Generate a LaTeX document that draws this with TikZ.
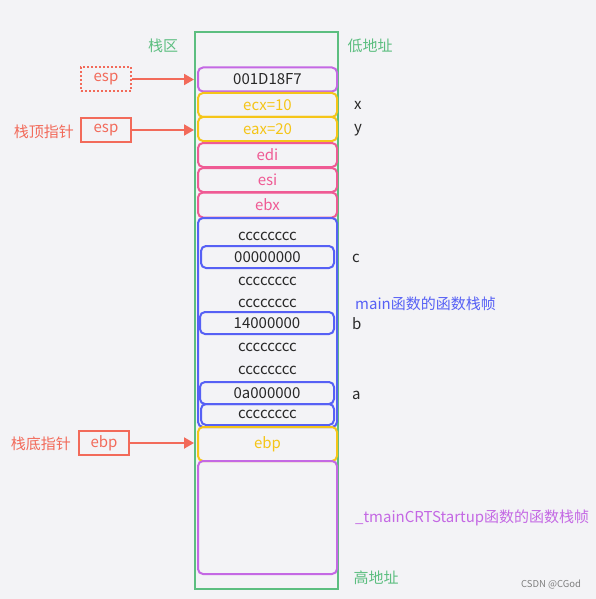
\documentclass[tikz,border=0pt]{standalone}
\usepackage{fontspec}
\setmainfont{Noto Sans CJK SC}
\usepackage{tikz}
\usetikzlibrary{calc,arrows.meta}

\definecolor{bgc}{RGB}{243,243,246}
\definecolor{framegreen}{RGB}{92,190,128}
\definecolor{ptrred}{RGB}{242,106,90}
\definecolor{regyellow}{RGB}{245,197,24}
\definecolor{regpink}{RGB}{239,90,148}
\definecolor{mainblue}{RGB}{86,96,245}
\definecolor{crtpurple}{RGB}{196,104,228}
\definecolor{txtgray}{RGB}{40,40,40}

\tikzset{
    cell/.style={draw, rounded corners=5pt, line width=2pt, minimum width=139pt, minimum height=24pt, inner sep=0pt},
    val/.style={text=txtgray, inner sep=0pt},
    ptrbox/.style={draw=ptrred, line width=2pt, text=ptrred, minimum width=50pt, minimum height=24pt, inner sep=0pt},
    ptr/.style={draw=ptrred, line width=2pt, -{Triangle[length=10pt,width=11pt]}},
    lbl/.style={inner sep=0pt, anchor=west}
}

\begin{document}
\begin{tikzpicture}[x=1pt, y=-1pt, font=\fontsize{15}{17}\selectfont]
        % Background and size
        \fill[bgc] (0,0) rectangle (596,599);
        \useasboundingbox (0,0) rectangle (596,599);

        % Stack area frame
        \node[draw=framegreen, line width=2pt, minimum width=143pt, minimum height=557pt, inner sep=0pt] (frame) at (266.5,310.5) {};
        \node[text=framegreen, inner sep=0pt] (zone) at (163,46) {栈区};
        \node[text=framegreen, inner sep=0pt] (low) at (370,46) {低地址};
        \node[text=framegreen, inner sep=0pt] (high) at (376,578) {高地址};

        % Registers pushed on top
        \node[cell, draw=crtpurple, text=txtgray] (top) at (267.5,79.5) {001D18F7};
        \node[cell, draw=regyellow, text=regyellow] (ecx) at (267.5,105) {ecx=10};
        \node[cell, draw=regyellow, text=regyellow] (eax) at (267.5,129) {eax=20};
        \node[cell, draw=regpink, text=regpink] (edi) at (267.5,155) {edi};
        \node[cell, draw=regpink, text=regpink] (esi) at (267.5,180) {esi};
        \node[cell, draw=regpink, text=regpink, minimum height=25pt] (ebx) at (267.5,205) {ebx};

        % Frame of main
        \node[cell, draw=mainblue, minimum height=209pt] (mainframe) at (267.5,322.5) {};
        \node[val] (c1) at (267.5,236) {cccccccc};
        \node[cell, draw=mainblue, minimum width=133pt, minimum height=22pt, text=txtgray] (varc) at (267.5,257) {00000000};
        \node[val] (c2) at (267.5,281) {cccccccc};
        \node[val] (c3) at (267.5,303) {cccccccc};
        \node[cell, draw=mainblue, minimum width=134pt, minimum height=22pt, text=txtgray] (varb) at (267,323) {14000000};
        \node[val] (c4) at (267.5,347) {cccccccc};
        \node[val] (c5) at (267.5,370) {cccccccc};
        \node[cell, draw=mainblue, minimum width=134pt, minimum height=22pt, text=txtgray] (vara) at (267,393) {0a000000};
        \node[cell, draw=mainblue, minimum width=133pt, minimum height=21pt, text=txtgray] (c6) at (267.5,414.5) {cccccccc};

        % Saved ebp and caller frame
        \node[cell, draw=regyellow, text=regyellow, minimum height=34pt] (oldebp) at (267.5,444) {ebp};
        \node[cell, draw=crtpurple, minimum height=113pt] (crtframe) at (267.5,517.5) {};

        % Variable names and frame names
        \node[lbl, text=txtgray] (nx) at (354,105) {x};
        \node[lbl, text=txtgray] (ny) at (354,130) {y};
        \node[lbl, text=txtgray] (nc) at (352,258) {c};
        \node[lbl, text=txtgray] (nb) at (352,324) {b};
        \node[lbl, text=txtgray] (na) at (352,395) {a};
        \node[lbl, text=mainblue] (mainname) at (355,304) {main函数的函数栈帧};
        \node[lbl, text=crtpurple] (crtname) at (355,518) {\_tmainCRTStartup函数的函数栈帧};

        % Pointers
        \node[ptrbox, dotted] (espold) at (106,79.5) {esp};
        \node[ptrbox] (esp) at (106,130) {esp};
        \node[text=ptrred, inner sep=0pt, anchor=east] (espname) at (74,132) {栈顶指针};
        \node[ptrbox] (ebp) at (104,443) {ebp};
        \node[text=ptrred, inner sep=0pt, anchor=east] (ebpname) at (71,444) {栈底指针};
        \draw[ptr] (espold.east) -- (espold.east -| frame.west);
        \draw[ptr] (esp.east) -- (esp.east -| frame.west);
        \draw[ptr] (ebp.east) -- (ebp.east -| frame.west);

        % Watermark
        \node[text=gray, font=\fontsize{9.5}{11}\selectfont, inner sep=0pt] (mark) at (551,585) {CSDN @CGod};
    \end{tikzpicture}
\end{document}
